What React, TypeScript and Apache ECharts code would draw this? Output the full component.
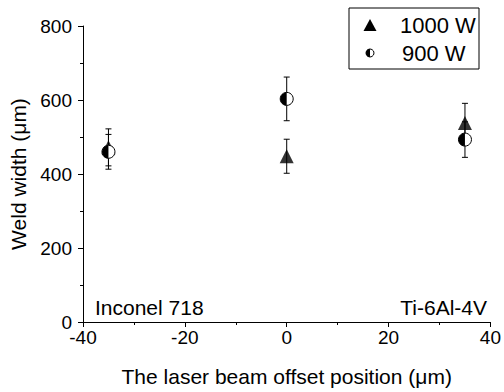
import React, { useEffect, useRef } from "react";
import * as echarts from "echarts";

const xPositions = [-35, 0, 35];
const w1000 = [472, 448, 538];
const w1000Err = [50, 46, 53];
const w900 = [460, 603, 493];
const w900Err = [47, 59, 48];
const xTicks = [-40, -20, 0, 20, 40];
const yTicks = [0, 200, 400, 600, 800];

const FONT = "Liberation Sans, Arial, sans-serif";

function errData(vals: number[], errs: number[]) {
  return xPositions.map((x, i) => [x, vals[i], errs[i]]);
}

const errorRender = (params: any, api: any) => {
  const x = api.value(0);
  const y = api.value(1);
  const e = api.value(2);
  const top = api.coord([x, y + e]);
  const bot = api.coord([x, y - e]);
  const hw = 3;
  const st = { stroke: "#000", lineWidth: 1 };
  return {
    type: "group",
    children: [
      { type: "line", shape: { x1: top[0], y1: top[1], x2: bot[0], y2: bot[1] }, style: st },
      { type: "line", shape: { x1: top[0] - hw, y1: top[1], x2: top[0] + hw, y2: top[1] }, style: st },
      { type: "line", shape: { x1: bot[0] - hw, y1: bot[1], x2: bot[0] + hw, y2: bot[1] }, style: st },
    ],
  };
};

const halfCircleRender = (params: any, api: any) => {
  const p = api.coord([api.value(0), api.value(1)]);
  const r = 6.5;
  return {
    type: "group",
    children: [
      { type: "circle", shape: { cx: p[0], cy: p[1], r }, style: { fill: "#fff", stroke: "#000", lineWidth: 1 } },
      {
        type: "sector",
        shape: { cx: p[0], cy: p[1], r0: 0, r, startAngle: Math.PI / 2, endAngle: (3 * Math.PI) / 2, clockwise: true },
        style: { fill: "#000" },
      },
    ],
  };
};

export default function App() {
  const ref = useRef<HTMLDivElement>(null);
  useEffect(() => {
    if (!ref.current) return;
    const chart = echarts.init(ref.current, null, { renderer: "svg" });
    const axisText = { color: "#000", fontFamily: FONT, fontSize: 19 };
    chart.setOption({
      animation: false,
      backgroundColor: "#fff",
      grid: { left: 83, right: 10, top: 26, bottom: 64 },
      xAxis: {
        type: "value",
        min: xTicks[0],
        max: xTicks[xTicks.length - 1],
        interval: 20,
        axisLine: { show: true, onZero: false, lineStyle: { color: "#000", width: 1 } },
        axisTick: { show: true, inside: false, length: 5, lineStyle: { color: "#000" } },
        minorTick: { show: true, splitNumber: 2, length: 3, lineStyle: { color: "#000" } },
        splitLine: { show: false },
        axisLabel: { ...axisText, margin: 6 },
        name: "The laser beam offset position (\u03bcm)",
        nameLocation: "middle",
        nameGap: 44,
        nameTextStyle: { color: "#000", fontFamily: FONT, fontSize: 21 },
      },
      yAxis: {
        type: "value",
        min: yTicks[0],
        max: yTicks[yTicks.length - 1],
        interval: 200,
        axisLine: { show: true, onZero: false, lineStyle: { color: "#000", width: 1 } },
        axisTick: { show: true, inside: false, length: 5, lineStyle: { color: "#000" } },
        minorTick: { show: true, splitNumber: 2, length: 3, lineStyle: { color: "#000" } },
        splitLine: { show: false },
        axisLabel: { ...axisText, margin: 11 },
        name: "Weld width (\u03bcm)",
        nameLocation: "middle",
        nameGap: 41,
        nameTextStyle: { color: "#000", fontFamily: FONT, fontSize: 21 },
      },
      series: [
        {
          type: "custom",
          name: "err1000",
          renderItem: errorRender,
          data: errData(w1000, w1000Err),
          encode: { x: 0, y: 1 },
          z: 1,
          silent: true,
        },
        {
          type: "custom",
          name: "err900",
          renderItem: errorRender,
          data: errData(w900, w900Err),
          encode: { x: 0, y: 1 },
          z: 1,
          silent: true,
        },
        {
          type: "scatter",
          name: "1000 W",
          symbol: "triangle",
          symbolSize: [14, 14],
          itemStyle: { color: "#000" },
          data: xPositions.map((x, i) => [x, w1000[i]]),
          z: 2,
        },
        {
          type: "custom",
          name: "900 W",
          renderItem: halfCircleRender,
          data: xPositions.map((x, i) => [x, w900[i]]),
          encode: { x: 0, y: 1 },
          z: 3,
        },
      ],
      graphic: [
        {
          type: "text",
          left: 95,
          top: 297,
          style: { text: "Inconel 718", fill: "#000", font: `21px ${FONT}` },
        },
        {
          type: "text",
          right: 17,
          top: 297,
          style: { text: "Ti-6Al-4V", fill: "#000", font: `21px ${FONT}` },
        },
        {
          type: "rect",
          shape: { x: 349, y: 8, width: 130, height: 61 },
          style: { fill: "#fff", stroke: "#000", lineWidth: 1 },
          z: 10,
        },
        {
          type: "polygon",
          shape: { points: [[370, 19], [363.5, 31], [376.5, 31]] },
          style: { fill: "#000" },
          z: 11,
        },
        {
          type: "circle",
          shape: { cx: 370, cy: 53, r: 4 },
          style: { fill: "#fff", stroke: "#000", lineWidth: 1 },
          z: 11,
        },
        {
          type: "sector",
          shape: { cx: 370, cy: 53, r0: 0, r: 4, startAngle: Math.PI / 2, endAngle: (3 * Math.PI) / 2, clockwise: true },
          style: { fill: "#000" },
          z: 12,
        },
        {
          type: "text",
          x: 400,
          y: 25,
          style: { text: "1000 W", fill: "#000", font: `22px ${FONT}`, verticalAlign: "middle" },
          z: 11,
        },
        {
          type: "text",
          x: 402,
          y: 53,
          style: { text: "900 W", fill: "#000", font: `22px ${FONT}`, verticalAlign: "middle" },
          z: 11,
        },
      ],
    });
    return () => chart.dispose();
  }, []);
  return <div ref={ref} style={{ width: 504, height: 392, position: "fixed", left: 0, top: 0 }} />;
}
